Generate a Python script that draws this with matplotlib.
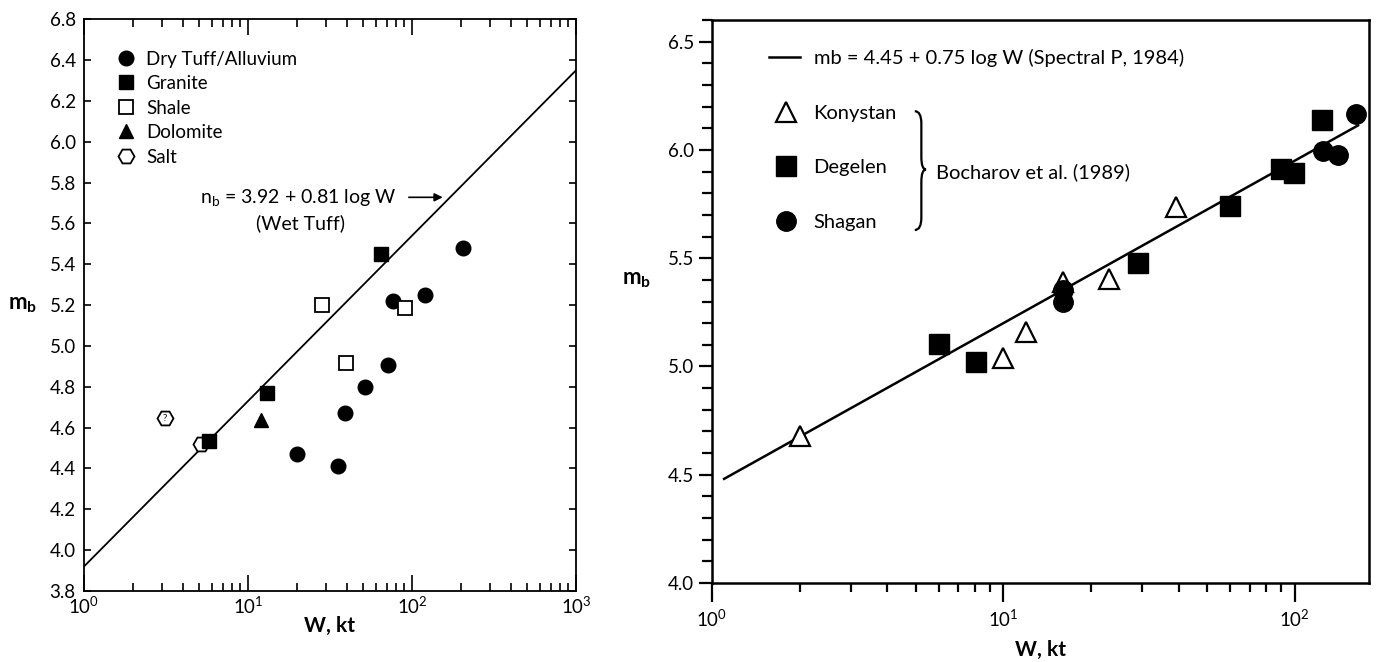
import numpy as np
import matplotlib
matplotlib.use('Agg')
import matplotlib.pyplot as plt
from matplotlib.path import Path
from matplotlib.patches import PathPatch

plt.rcParams['font.family'] = ['Lato', 'DejaVu Sans']
plt.rcParams['mathtext.fontset'] = 'custom'
plt.rcParams['mathtext.rm'] = 'Lato'
plt.rcParams['mathtext.it'] = 'Lato:italic'
plt.rcParams['mathtext.bf'] = 'Lato:bold'

# ---- left panel: US tests by medium ----
dry_w = [19.8, 35.5, 39.2, 52, 71, 77, 120, 206]
dry_mb = [4.47, 4.41, 4.67, 4.80, 4.905, 5.22, 5.25, 5.48]
granite_w = [5.8, 13.0, 65]
granite_mb = [4.535, 4.77, 5.45]
shale_w = [28.3, 39.6, 91]
shale_mb = [5.20, 4.915, 5.185]
dolomite_w = [12.0]
dolomite_mb = [4.635]
salt_w = [3.1, 5.2]
salt_mb = [4.645, 4.52]
salt_flag = ['?', '']

wet_a, wet_b = 3.92, 0.81
wet_range = [1, 1000]

left_yticks = [3.8, 4.0, 4.2, 4.4, 4.6, 4.8, 5.0, 5.2, 5.4, 5.6, 5.8, 6.0, 6.2, 6.4, 6.6]
left_ylabels = ['3.8', '4.0', '4.2', '4.4', '4.6', '4.8', '5.0', '5.2', '5.4',
                '5.6', '5.8', '6.0', '6.2', '6.4', '6.8']

# ---- right panel: Soviet tests ----
konystan_w = [2.0, 10.0, 12.0, 16.0, 23.0, 39.3]
konystan_mb = [4.68, 5.04, 5.16, 5.39, 5.405, 5.735]
degelen_w = [6.0, 8.05, 28.9, 59.8, 89.6, 99.6, 124]
degelen_mb = [5.105, 5.02, 5.48, 5.74, 5.91, 5.895, 6.14]
shagan_w = [16.0, 16.0, 125, 140.6, 163]
shagan_mb = [5.355, 5.30, 5.997, 5.977, 6.164]

sp_a, sp_b = 4.45, 0.75
sp_range = [1.1, 165]

fig = plt.figure(figsize=(13.77, 6.62), dpi=100)
ax1 = fig.add_axes([0.061, 0.1073, 0.3573, 0.8636])
ax2 = fig.add_axes([0.5171, 0.1193, 0.4771, 0.8505])

# ---------------- left ----------------
w = np.array(wet_range, dtype=float)
ax1.plot(w, wet_a + wet_b * np.log10(w), 'k-', lw=1.3, zorder=2)

ms = 10.5
ax1.plot(dry_w, dry_mb, 'o', color='k', ms=ms, ls='none', zorder=3, label='Dry Tuff/Alluvium')
ax1.plot(granite_w, granite_mb, 's', color='k', ms=ms - 0.5, ls='none', zorder=4, label='Granite')
ax1.plot(shale_w, shale_mb, 's', mfc='white', mec='k', mew=1.3, ms=ms - 0.5, ls='none',
         zorder=3, label='Shale')
ax1.plot(dolomite_w, dolomite_mb, '^', color='k', ms=ms, ls='none', zorder=3, label='Dolomite')
ax1.plot(salt_w, salt_mb, 'H', mfc='white', mec='k', mew=1.3, ms=ms + 1, ls='none',
         zorder=3, label='Salt')
for sw, sm, f in zip(salt_w, salt_mb, salt_flag):
    if f:
        ax1.text(sw, sm, f, ha='center', va='center', fontsize=7, zorder=5)

ax1.set_xscale('log')
ax1.set_xlim(1, 1000)
ax1.set_ylim(3.8, 6.6)
ax1.set_yticks(left_yticks)
ax1.set_yticklabels(left_ylabels)
ax1.tick_params(which='both', direction='in', top=True, right=True, labelsize=13.5, width=1.2)
ax1.tick_params(axis='x', which='major', length=11.5, pad=3)
ax1.tick_params(axis='x', which='minor', length=5.8)
ax1.tick_params(axis='y', which='major', length=5, pad=6)
for s in ax1.spines.values():
    s.set_linewidth(1.3)
ax1.set_xlabel('W, kt', fontsize=15, fontweight='bold', labelpad=0)
ax1.set_ylabel(r'$\mathbf{m_b}$', fontsize=16, rotation=0, va='center')
ax1.yaxis.set_label_coords(-0.125, 0.5)

ax1.legend(loc='center left', bbox_to_anchor=(0.063, 0.8447), frameon=False,
           fontsize=13.5, labelspacing=0.4, handletextpad=0.45, handlelength=1.2,
           borderaxespad=0, borderpad=0)

ax1.annotate('', xy=(160, 5.728), xytext=(92, 5.728),
             arrowprops=dict(arrowstyle='-|>', color='k', lw=1.2, mutation_scale=12))
ax1.text(80, 5.728, r'n$_\mathregular{b}$ = 3.92 + 0.81 log W', ha='right', va='center',
         fontsize=14)
ax1.text(21, 5.60, '(Wet Tuff)', ha='center', va='center', fontsize=14)

# ---------------- right ----------------
w2 = np.array(sp_range, dtype=float)
ax2.plot(w2, sp_a + sp_b * np.log10(w2), 'k-', lw=1.8, zorder=2,
         label='mb = 4.45 + 0.75 log W (Spectral P, 1984)')
ms2 = 14
ax2.plot(konystan_w, konystan_mb, '^', mfc='white', mec='k', mew=1.6, ms=ms2 + 1, ls='none',
         zorder=3, label='Konystan')
ax2.plot(degelen_w, degelen_mb, 's', color='k', ms=ms2, ls='none', zorder=3, label='Degelen')
ax2.plot(shagan_w, shagan_mb, 'o', color='k', ms=ms2, ls='none', zorder=4, label='Shagan')

ax2.set_xscale('log')
ax2.set_xlim(1, 180)
ax2.set_ylim(4.0, 6.6)
ax2.set_yticks([4.0, 4.5, 5.0, 5.5, 6.0, 6.5])
ax2.set_yticks(np.arange(4.0, 6.61, 0.1), minor=True)
ax2.tick_params(which='both', direction='out', top=False, right=False, labelsize=13.5, width=1.6)
ax2.tick_params(axis='x', which='major', length=13.5, pad=5)
ax2.tick_params(axis='x', which='minor', length=6.5)
ax2.tick_params(axis='y', which='major', length=9.5, pad=3.5)
ax2.tick_params(axis='y', which='minor', length=7)
for s in ax2.spines.values():
    s.set_linewidth(1.8)
ax2.set_xlabel('W, kt', fontsize=15, fontweight='bold', labelpad=7)
ax2.set_ylabel(r'$\mathbf{m_b}$', fontsize=16, rotation=0, va='center')
ax2.yaxis.set_label_coords(-0.115, 0.538)

handles, labels = ax2.get_legend_handles_labels()
leg_line = ax2.legend(handles[:1], labels[:1], loc='center left', bbox_to_anchor=(0.086, 0.933),
                      frameon=False, fontsize=14.5, handlelength=1.55, handletextpad=0.7,
                      borderaxespad=0, borderpad=0)
ax2.add_artist(leg_line)
ax2.legend(handles[1:], labels[1:], loc='center left', bbox_to_anchor=(0.094, 0.7375),
           frameon=False, fontsize=14.5, labelspacing=1.85, handlelength=1.2,
           handletextpad=0.75, borderaxespad=0, borderpad=0)

# curly brace grouping the three test sites
bx, by0, by1, bym = 0.3186, 0.627, 0.838, 0.7345
bw_l, bw_r, br = 0.010, 0.007, 0.022
verts = [(bx - bw_l, by1), (bx, by1), (bx, by1 - br),
         (bx, bym + br), (bx, bym), (bx + bw_r, bym),
         (bx, bym), (bx, bym - br),
         (bx, by0 + br), (bx, by0), (bx - bw_l, by0)]
codes = [Path.MOVETO, Path.CURVE3, Path.CURVE3,
         Path.LINETO, Path.CURVE3, Path.CURVE3,
         Path.CURVE3, Path.CURVE3,
         Path.LINETO, Path.CURVE3, Path.CURVE3]
ax2.add_patch(PathPatch(Path(verts, codes), transform=ax2.transAxes, fill=False,
                        lw=1.6, color='k'))
ax2.text(bx + 0.022, bym - 0.004, 'Bocharov et al. (1989)', transform=ax2.transAxes,
         ha='left', va='center', fontsize=14.5)

fig.savefig('out.png', dpi=100)
